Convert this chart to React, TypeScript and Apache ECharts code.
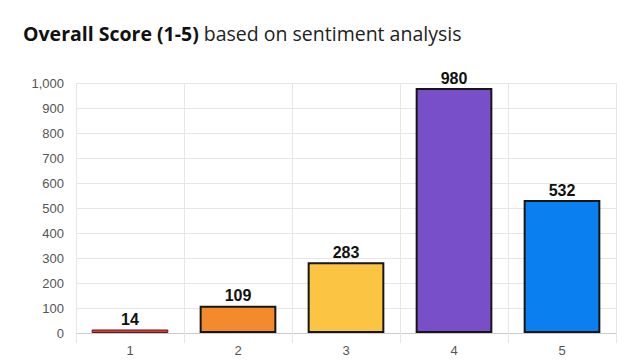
import React, { useEffect, useRef } from "react";
import * as echarts from "echarts";

const categories = ["1", "2", "3", "4", "5"];
const counts = [14, 109, 283, 980, 532];
const barColors = ["#d8403a", "#f38a2b", "#fcc443", "#784fc8", "#0a80f0"];
const barBorders = ["#5a1a18", "#161616", "#161616", "#161616", "#161616"];
const barBorderWidths = [1, 2, 2, 2, 2];

export default function App() {
  const ref = useRef<HTMLDivElement>(null);

  useEffect(() => {
    if (!ref.current) return;
    const chart = echarts.init(ref.current, null, { renderer: "svg" });
    chart.setOption({
      animation: false,
      backgroundColor: "#ffffff",
      title: {
        left: 18,
        top: 18,
        text: "{b|Overall Score (1-5)} {r|based on sentiment analysis}",
        textStyle: {
          rich: {
            b: { fontFamily: "Open Sans", fontWeight: "bold", fontSize: 19.5, color: "#111" },
            r: { fontFamily: "Open Sans", fontWeight: "normal", fontSize: 19.5, color: "#222" },
          },
        },
      },
      grid: { left: 76, right: 24, top: 83, bottom: 30 },
      xAxis: {
        type: "category",
        data: categories,
        axisLine: { show: true, lineStyle: { color: "#cccccc" } },
        axisTick: { show: true, length: 10, lineStyle: { color: "#e6e6e6" } },
        splitLine: { show: true, lineStyle: { color: "#e6e6e6" } },
        axisLabel: { color: "#555", fontFamily: "Liberation Sans", fontSize: 13, margin: 11 },
      },
      yAxis: {
        type: "value",
        min: 0,
        max: 1000,
        interval: 100,
        axisLine: { show: false },
        axisTick: { show: false },
        splitLine: { lineStyle: { color: "#e6e6e6" } },
        axisLabel: {
          color: "#555",
          fontFamily: "Liberation Sans",
          fontSize: 13,
          margin: 12,
          formatter: (v: number) => v.toLocaleString("en-US"),
        },
      },
      series: [
        {
          type: "bar",
          barWidth: "71%",
          data: counts.map((v, i) => ({
            value: v,
            itemStyle: {
              color: barColors[i],
              borderColor: barBorders[i],
              borderWidth: barBorderWidths[i],
            },
          })),
          label: {
            show: true,
            position: "top",
            distance: 2,
            color: "#111",
            fontFamily: "Liberation Sans",
            fontWeight: "bold",
            fontSize: 16,
          },
        },
      ],
    });
    return () => chart.dispose();
  }, []);

  return <div ref={ref} style={{ width: 640, height: 363, position: "absolute", left: 0, top: 0 }} />;
}
